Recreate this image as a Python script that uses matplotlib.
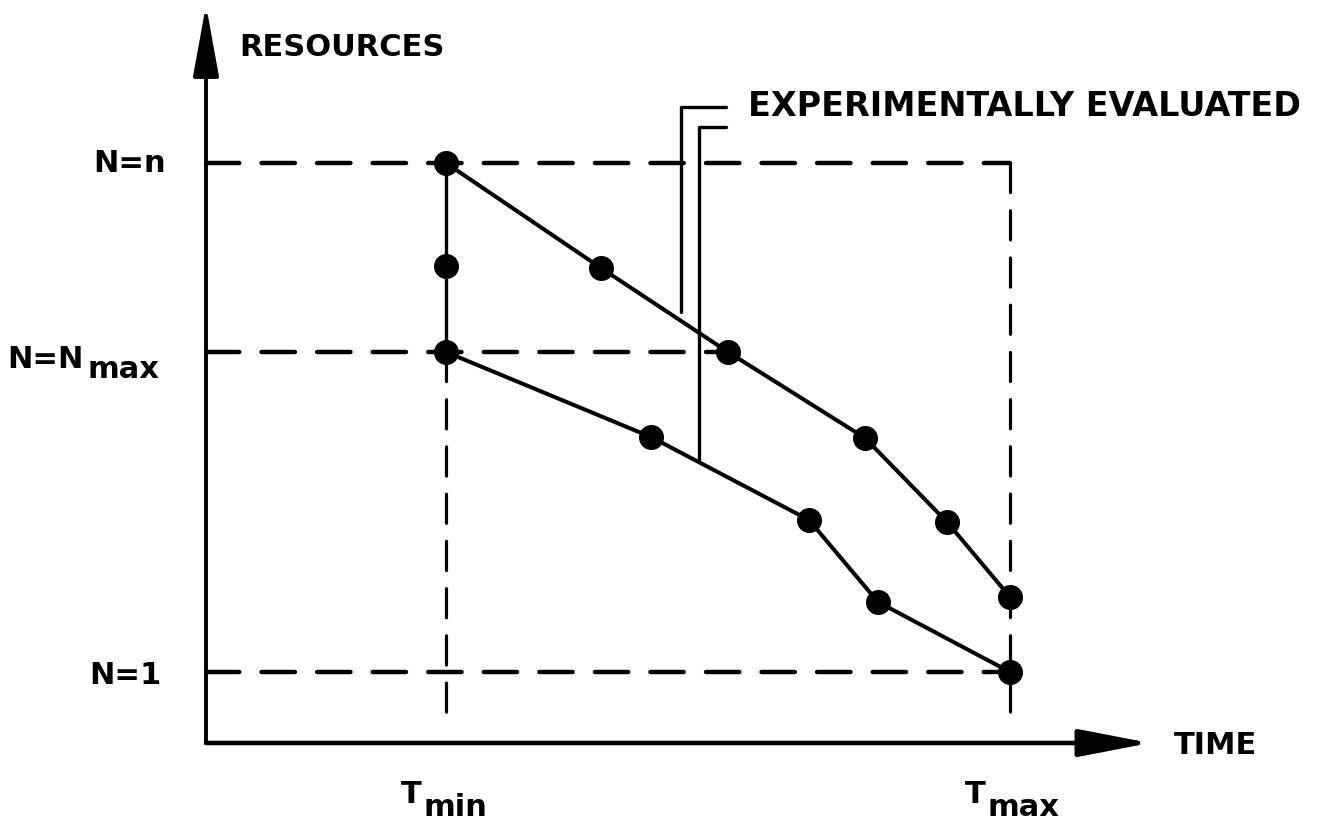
"""Schematic: resources vs. time trade-off with experimentally evaluated curves."""

import matplotlib
matplotlib.use("Agg")
import matplotlib.pyplot as plt

plt.rcParams["font.family"] = ["DejaVu Sans"]
plt.rcParams["lines.scale_dashes"] = False
plt.rcParams["lines.solid_capstyle"] = "round"
plt.rcParams["lines.dash_capstyle"] = "round"

# drawing units (x: time, y: resources), origin of the sketch at lower left
ORIGIN_T = 206
ORIGIN_R = 83
T_AXIS_END = 1150
R_AXIS_END = 821

T_MIN = 446
T_MAX = 1010
N_N = 663      # N = n
N_NMAX = 474   # N = Nmax
N_ONE = 154    # N = 1

# upper experimental curve
upper_time = [446, 601, 728, 865, 947, 1010]
upper_res = [663, 558, 474, 388, 304, 229]

# lower experimental curve
lower_time = [446, 651, 809, 878, 1010]
lower_res = [474, 389, 306, 224, 154]

# extra evaluated point on the T_min line
middle_time = [446]
middle_res = [560]

# leader lines to the annotation
leader_top = [719, 699]
leader_x = [681, 699]
leader_end_x = 726

INK = "black"
DASH_H = (24, 16)
DASH_V = (21, 13)

figure = plt.figure(figsize=(13.25, 8.26), dpi=100)
ax = figure.add_axes([0, 0, 1, 1])
ax.set_xlim(0, 1325)
ax.set_ylim(0, 826)
ax.axis("off")

# axes with arrowheads
ax.annotate("", xy=(ORIGIN_T, R_AXIS_END), xytext=(ORIGIN_T, ORIGIN_R),
            arrowprops=dict(arrowstyle="-|>,head_length=44,head_width=8",
                            mutation_scale=1, lw=2.8, color=INK,
                            shrinkA=0, shrinkB=0))
ax.annotate("", xy=(T_AXIS_END, ORIGIN_R), xytext=(ORIGIN_T, ORIGIN_R),
            arrowprops=dict(arrowstyle="-|>,head_length=44,head_width=8.5",
                            mutation_scale=1, lw=3.3, color=INK,
                            shrinkA=0, shrinkB=0))

# dashed reference lines
ax.plot([ORIGIN_T, T_MAX], [N_N, N_N], color=INK, lw=3.2,
        linestyle=(0, DASH_H))
ax.plot([ORIGIN_T, 728], [N_NMAX, N_NMAX], color=INK, lw=3.2,
        linestyle=(0, DASH_H))
ax.plot([ORIGIN_T, T_MAX], [N_ONE, N_ONE], color=INK, lw=3.2,
        linestyle=(0, DASH_H))
ax.plot([T_MIN, T_MIN], [N_NMAX, ORIGIN_R + 18], color=INK, lw=2.3,
        linestyle=(0, DASH_V))
ax.plot([T_MAX, T_MAX], [N_N, ORIGIN_R + 15], color=INK, lw=2.3,
        linestyle=(0, DASH_V))

# solid T_min segment and the curves
ax.plot([T_MIN, T_MIN], [N_N, N_NMAX], color=INK, lw=2.4)
ax.plot(upper_time, upper_res, color=INK, lw=2.9, marker="o",
        markersize=17)
ax.plot(lower_time, lower_res, color=INK, lw=2.9, marker="o",
        markersize=17)
ax.plot(middle_time, middle_res, linestyle="none", color=INK, marker="o",
        markersize=17)

# leader lines
ax.plot([leader_x[0], leader_x[0], leader_end_x],
        [514, leader_top[0], leader_top[0]], color=INK, lw=2.4)
ax.plot([leader_x[1], leader_x[1], leader_end_x],
        [366, leader_top[1], leader_top[1]], color=INK, lw=2.4)

# text
FS = 22
BOLD = "bold"
ax.text(239, 778, "RESOURCES", fontsize=FS, fontweight=BOLD,
        ha="left", va="center")
ax.text(748, 719, "EXPERIMENTALLY EVALUATED", fontsize=24,
        fontweight=BOLD, ha="left", va="center")
ax.text(1174, 80, "TIME", fontsize=FS, fontweight=BOLD,
        ha="left", va="center")

ax.text(166, N_N, "N=n", fontsize=FS, fontweight=BOLD,
        ha="right", va="center")
ax.text(162, N_ONE - 3, "N=1", fontsize=FS, fontweight=BOLD,
        ha="right", va="center")
ax.text(84, N_NMAX - 16, "N=N", fontsize=FS, fontweight=BOLD,
        ha="right", va="baseline")
ax.text(88, N_NMAX - 26, "max", fontsize=FS, fontweight=BOLD,
        ha="left", va="baseline")

for t_pos, sub in [(T_MIN, "min"), (T_MAX, "max")]:
    ax.text(t_pos - 24, 23, "T", fontsize=FS, fontweight=BOLD,
            ha="right", va="baseline")
    ax.text(t_pos - 22, 10, sub, fontsize=FS, fontweight=BOLD,
            ha="left", va="baseline")

figure.savefig("out.png", dpi=100)
plt.close(figure)
